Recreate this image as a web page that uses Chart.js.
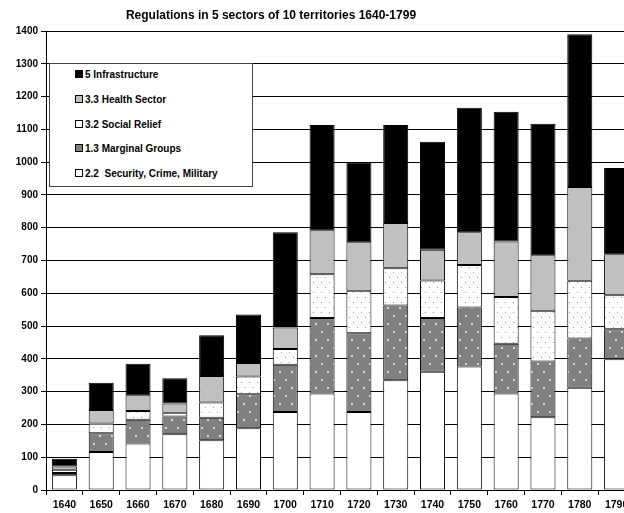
<!DOCTYPE html>
<html>
<head>
<meta charset="utf-8">
<script src="https://cdn.jsdelivr.net/npm/chart.js@4"></script>
<style>
  html, body { margin: 0; padding: 0; background: #fff; overflow: hidden; }
  #wrap { position: relative; width: 624px; height: 513px; overflow: hidden; }
  #chart { position: absolute; left: 0; top: 0; }
  #title {
    position: absolute; left: 0; top: 8px; width: 542px; text-align: center;
    font: bold 12px "Liberation Sans", Arial, sans-serif; color: #000;
  }
  #legend {
    position: absolute; left: 49px; top: 63px; width: 202px; height: 122px;
    border: 1px solid #444; background: #fff;
    font: bold 10px "Liberation Sans", Arial, sans-serif; color: #000;
  }
  .item { position: absolute; left: 25px; height: 12px; line-height: 12px; white-space: pre; }
  .sw { display: inline-block; width: 6px; height: 6px; border: 1px solid #000; margin-right: 2px; vertical-align: -0px; }
</style>
</head>
<body>
<div id="wrap">
  <canvas id="chart"></canvas>
  <div id="title">Regulations in 5 sectors of 10 territories 1640-1799</div>
  <div id="legend"></div>
</div>
<script>
const years = ['1640', '1650', '1660', '1670', '1680', '1690', '1700', '1710',
               '1720', '1730', '1740', '1750', '1760', '1770', '1780', '1790'];

const security = [45, 116, 142, 170, 152, 188, 238, 294, 238, 335, 361, 377, 294, 222, 312, 399];
const marginal = [7, 57, 72, 54, 68, 104, 144, 231, 240, 228, 164, 180, 152, 170, 150, 91];
const relief = [10, 30, 27, 12, 47, 54, 48, 133, 130, 113, 114, 129, 143, 155, 176, 104];
const health = [10, 41, 48, 28, 81, 41, 66, 134, 148, 138, 94, 100, 169, 169, 286, 125];
const infra = [23, 83, 96, 77, 124, 148, 290, 321, 244, 299, 329, 380, 396, 401, 466, 263];

const seriesNames = ['2.2  Security, Crime, Military', '1.3 Marginal Groups',
                     '3.2 Social Relief', '3.3 Health Sector', '5 Infrastructure'];
const yTicks = [0, 100, 200, 300, 400, 500, 600, 700, 800, 900, 1000, 1100, 1200, 1300, 1400];

const canvas = document.getElementById('chart');
canvas.width = 640;
canvas.height = 513;
canvas.style.width = '640px';
canvas.style.height = '513px';
const ctx = canvas.getContext('2d');

function makePattern(bg, dot, w, h, dots, size) {
    const tile = document.createElement('canvas');
    tile.width = w;
    tile.height = h;
    const g = tile.getContext('2d');
    g.fillStyle = bg;
    g.fillRect(0, 0, w, h);
    g.fillStyle = dot;
    dots.forEach(d => g.fillRect(d[0], d[1], size, size));
    return ctx.createPattern(tile, 'repeat');
}

const marginalFill = makePattern('#808080', '#d8d8d8', 12, 16, [[3, 3], [9, 11]], 2);
const reliefFill = makePattern('#ffffff', '#9a9a9a', 8, 10, [[1, 2], [5, 7]], 1);

// legend (bottom series listed last, like the original)
const legendColors = ['#ffffff', '#808080', '#ffffff', '#c0c0c0', '#000000'];
const legendRows = [75, 100, 124.5, 149, 173.5];
const legend = document.getElementById('legend');
[4, 3, 2, 1, 0].forEach((s, i) => {
    const item = document.createElement('div');
    item.className = 'item';
    item.style.top = (legendRows[i] - 63 - 7) + 'px';
    const sw = document.createElement('span');
    sw.className = 'sw';
    sw.style.background = legendColors[s];
    item.appendChild(sw);
    item.appendChild(document.createTextNode(seriesNames[s]));
    legend.appendChild(item);
});

function barSet(label, data, fill) {
    return {
        label: label,
        data: data,
        backgroundColor: fill,
        borderColor: '#000',
        borderWidth: 1,
        borderSkipped: false,
        categoryPercentage: 1.0,
        barPercentage: 0.68
    };
}

new Chart(ctx, {
    type: 'bar',
    data: {
        labels: years,
        datasets: [
            barSet(seriesNames[0], security, '#ffffff'),
            barSet(seriesNames[1], marginal, marginalFill),
            barSet(seriesNames[2], relief, reliefFill),
            barSet(seriesNames[3], health, '#c0c0c0'),
            barSet(seriesNames[4], infra, '#000000')
        ]
    },
    options: {
        responsive: false,
        animation: false,
        layout: { padding: { top: 31, right: 5, bottom: 0, left: 0 } },
        plugins: {
            legend: { display: false },
            title: { display: false },
            tooltip: { enabled: false }
        },
        scales: {
            x: {
                stacked: true,
                grid: { drawOnChartArea: false, drawTicks: true, tickLength: 5, color: '#000', offset: true },
                border: { color: '#000', width: 1 },
                ticks: {
                    color: '#000', padding: 4, maxRotation: 0, autoSkip: false,
                    font: { family: '"Liberation Sans", Arial, sans-serif', size: 10.5, weight: 'bold' }
                },
                afterFit: scale => { scale.height = 23; }
            },
            y: {
                stacked: true,
                min: 0,
                max: 1400,
                afterBuildTicks: scale => { scale.ticks = yTicks.map(v => ({ value: v })); },
                grid: { color: '#000', lineWidth: 1, tickLength: 5 },
                border: { color: '#000', width: 1 },
                ticks: {
                    color: '#000', padding: 3,
                    callback: v => String(v),
                    font: { family: '"Liberation Sans", Arial, sans-serif', size: 10, weight: 'bold' }
                },
                afterFit: scale => { scale.width = 46; }
            }
        }
    }
});
</script>
</body>
</html>
